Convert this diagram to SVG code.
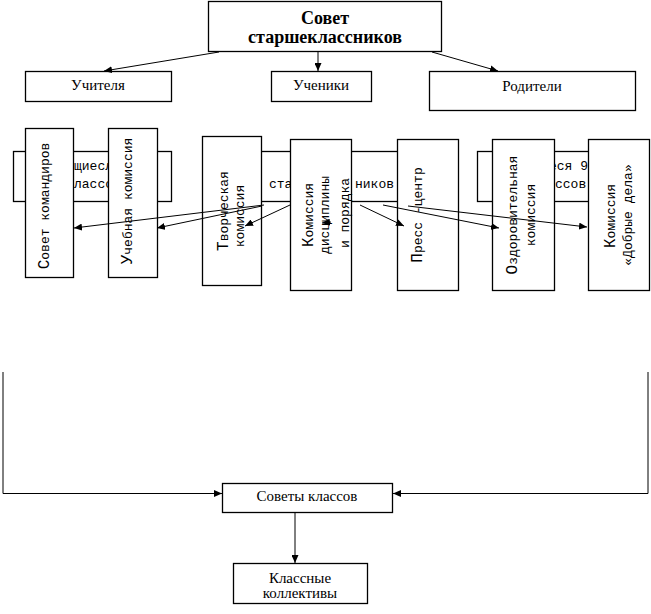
<svg xmlns="http://www.w3.org/2000/svg" width="651" height="614" viewBox="0 0 651 614">
<defs>
<marker id="ah" markerUnits="userSpaceOnUse" markerWidth="9" markerHeight="7" refX="8" refY="3.5" orient="auto">
<path d="M0,0 L8,3.5 L0,7 z" fill="#000"/>
</marker>
</defs>
<style>
.box{fill:#fff;stroke:#000;stroke-width:1.3}
.t{font-family:"Liberation Serif","Times New Roman",serif;font-size:15px;fill:#000;text-anchor:middle}
.tb{font-family:"Liberation Serif","Times New Roman",serif;font-size:18px;font-weight:bold;fill:#000;text-anchor:middle}
.m{font-family:"Liberation Mono","Courier New",monospace;font-size:13px;fill:#000}
.mc{text-anchor:middle}
.big{font-size:16px}
.ln{fill:none;stroke:#000;stroke-width:1;marker-end:url(#ah)}
</style>
<rect width="651" height="614" fill="#fff"/>

<g id="sovet-star">
<rect class="box" x="208.5" y="1.5" width="233" height="50"/>
<text class="tb" x="325" y="24">Совет</text>
<text class="tb" x="325" y="43">старшеклассников</text>
</g>
<g id="uchitelya">
<rect class="box" x="25.5" y="71.5" width="146" height="30"/>
<text class="t" x="98" y="90">Учителя</text>
</g>
<g id="ucheniki">
<rect class="box" x="271.5" y="71.5" width="100" height="30"/>
<text class="t" x="321" y="90">Ученики</text>
</g>
<g id="roditeli">
<rect class="box" x="429.5" y="71.5" width="206" height="39"/>
<text class="t" x="532" y="91">Родители</text>
</g>

<g id="back-left">
<rect class="box" x="13.5" y="151.5" width="158" height="50"/>
<text class="m" x="74" y="170">щиесл</text>
<text class="m" x="74" y="188">лассо</text>
</g>
<g id="back-mid">
<rect class="box" x="230.5" y="151.5" width="200" height="50"/>
<text class="m" x="269" y="188">ста</text>
<text class="m" x="355" y="188">ников</text>
</g>
<g id="back-right">
<rect class="box" x="477.5" y="151.5" width="140" height="50"/>
<text class="m" x="549" y="170">еся 9</text>
<text class="m" x="555" y="188">ссов</text>
</g>

<g id="sovet-komandirov">
<rect class="box" x="25.5" y="128.5" width="48" height="149"/>
<text class="m mc" transform="translate(49,206) rotate(-90)"><tspan class="big">С</tspan>овет командиров</text>
</g>
<g id="uchebnaya">
<rect class="box" x="108.5" y="128.5" width="49" height="149"/>
<text class="m mc" transform="translate(132,201) rotate(-90)"><tspan class="big">У</tspan>чебная комиссия</text>
</g>
<g id="tvorcheskaya">
<rect class="box" x="202.5" y="136.5" width="59" height="149"/>
<text class="m mc" transform="translate(228,211) rotate(-90)"><tspan class="big">Т</tspan>ворческая</text>
<text class="m mc" transform="translate(244,216) rotate(-90)">комиссия</text>
</g>
<g id="disciplina">
<rect class="box" x="290.5" y="139.5" width="61" height="151"/>
<text class="m mc" transform="translate(313,215) rotate(-90)"><tspan class="big">К</tspan>омиссия</text>
<text class="m mc" transform="translate(329,215) rotate(-90)">дисциплины</text>
<text class="m mc" transform="translate(349,213) rotate(-90)">и порядка</text>
</g>
<g id="press">
<rect class="box" x="397.5" y="139.5" width="61" height="151"/>
<text class="m mc" transform="translate(422,215) rotate(-90)"><tspan class="big">П</tspan>ресс -центр</text>
</g>
<g id="ozdorov">
<rect class="box" x="492.5" y="139.5" width="62" height="151"/>
<text class="m mc" transform="translate(517,215) rotate(-90)"><tspan class="big">О</tspan>здоровительная</text>
<text class="m mc" transform="translate(535,215) rotate(-90)">комиссия</text>
</g>
<g id="dobrye">
<rect class="box" x="588.5" y="139.5" width="61" height="151"/>
<text class="m mc" transform="translate(615,216) rotate(-90)"><tspan class="big">К</tspan>омиссия</text>
<text class="m mc" transform="translate(632,215) rotate(-90)">«Добрые дела»</text>
</g>

<g id="sovety-klassov">
<rect class="box" x="222.5" y="483.5" width="170" height="29"/>
<text class="t" x="307" y="501">Советы классов</text>
</g>
<g id="klassnye">
<rect class="box" x="233.5" y="563.5" width="134" height="40"/>
<text class="t" x="300" y="583">Классные</text>
<text class="t" x="300" y="598">коллективы</text>
</g>

<g id="connectors">
<line class="ln" x1="219" y1="52" x2="104" y2="71"/>
<line class="ln" x1="318" y1="52" x2="318" y2="71"/>
<line class="ln" x1="432" y1="52" x2="498" y2="71"/>
<line class="ln" x1="264" y1="205" x2="74" y2="228"/>
<line class="ln" x1="262" y1="206" x2="157" y2="228"/>
<line class="ln" x1="290" y1="205" x2="245" y2="226"/>
<line class="ln" x1="331" y1="222" x2="322" y2="223"/>
<line class="ln" x1="360" y1="205" x2="404" y2="226"/>
<line class="ln" x1="383" y1="205" x2="499" y2="228"/>
<line class="ln" x1="408" y1="206" x2="587" y2="227"/>
<path class="ln" d="M3,372 V493.5 H222"/>
<path class="ln" d="M648,372 V493.5 H393"/>
<line class="ln" x1="295" y1="513" x2="295" y2="563"/>
</g>
</svg>
